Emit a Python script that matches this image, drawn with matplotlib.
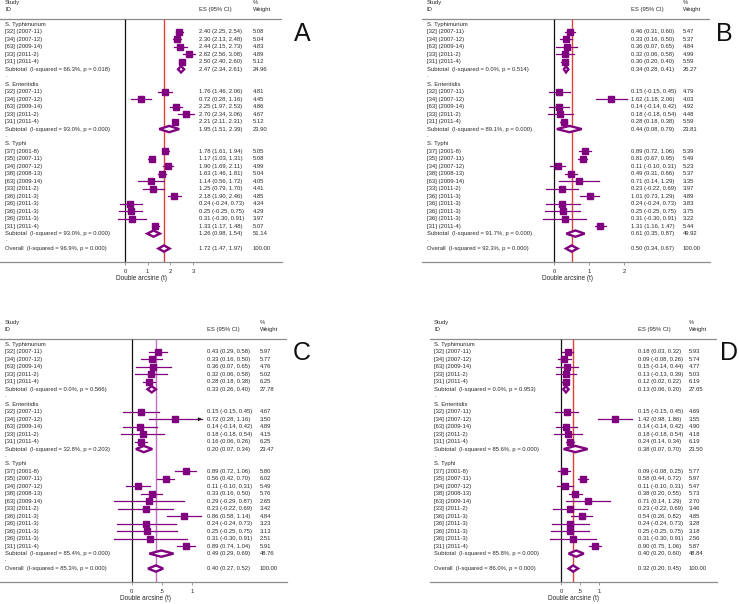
import matplotlib as mpl
mpl.use('Agg')
import matplotlib.pyplot as plt

plt.rcParams['font.family'] = ['Liberation Sans', 'DejaVu Sans']

GROUPS = ['S. Typhimurium', 'S. Enteritidis', 'S. Typhi']
STUDIES = [
    ['[32] (2007-11)', '[34] (2007-12)', '[63] (2009-14)', '[33] (2011-2)', '[31] (2011-4)'],
    ['[32] (2007-11)', '[34] (2007-12)', '[63] (2009-14)', '[33] (2011-2)', '[31] (2011-4)'],
    ['[37] (2001-8)', '[35] (2007-11)', '[34] (2007-12)', '[38] (2008-13)', '[63] (2009-14)',
     '[33] (2011-2)', '[36] (2011-3)', '[36] (2011-3)', '[36] (2011-3)', '[36] (2011-3)',
     '[31] (2011-4)'],
]

# panel A
A_ES = [2.40, 2.30, 2.44, 2.82, 2.50,
        1.76, 0.72, 2.25, 2.70, 2.21,
        1.78, 1.17, 1.90, 1.63, 1.14, 1.25, 2.18, 0.24, 0.25, 0.31, 1.33]
A_LO = [2.25, 2.13, 2.15, 2.56, 2.40,
        1.46, 0.28, 1.97, 2.34, 2.11,
        1.61, 1.03, 1.69, 1.46, 0.56, 0.79, 1.90, -0.24, -0.25, -0.30, 1.17]
A_HI = [2.54, 2.48, 2.73, 3.08, 2.60,
        2.06, 1.16, 2.53, 3.06, 2.31,
        1.94, 1.31, 2.11, 1.81, 1.72, 1.70, 2.46, 0.73, 0.75, 0.91, 1.48]
A_WT = [5.08, 5.04, 4.83, 4.89, 5.12,
        4.81, 4.45, 4.86, 4.67, 5.12,
        5.05, 5.08, 4.99, 5.04, 4.05, 4.41, 4.85, 4.34, 4.29, 3.97, 5.07]
# subgroups + overall: es, lo, hi, weight, I-squared, p
A_POOL = [(2.47, 2.34, 2.61, 24.96, '66.3', '0.018'),
          (1.95, 1.51, 2.39, 23.90, '93.0', '0.000'),
          (1.26, 0.98, 1.54, 51.14, '93.0', '0.000'),
          (1.72, 1.47, 1.97, 100.00, '96.9', '0.000')]

# panel B
B_ES = [0.46, 0.33, 0.36, 0.32, 0.30,
        0.15, 1.62, 0.14, 0.18, 0.28,
        0.89, 0.81, 0.11, 0.49, 0.71, 0.23, 1.01, 0.24, 0.25, 0.31, 1.31]
B_LO = [0.31, 0.16, 0.07, 0.06, 0.20,
        -0.15, 1.18, -0.14, -0.18, 0.18,
        0.72, 0.67, -0.10, 0.31, 0.14, -0.22, 0.73, -0.24, -0.25, -0.30, 1.16]
B_HI = [0.60, 0.50, 0.65, 0.58, 0.40,
        0.45, 2.06, 0.42, 0.54, 0.38,
        1.06, 0.95, 0.31, 0.66, 1.29, 0.69, 1.29, 0.73, 0.75, 0.91, 1.47]
B_WT = [5.47, 5.37, 4.84, 4.99, 5.59,
        4.79, 4.03, 4.92, 4.48, 5.59,
        5.39, 5.49, 5.23, 5.37, 3.35, 3.97, 4.89, 3.83, 3.75, 3.22, 5.44]
B_POOL = [(0.34, 0.28, 0.41, 26.27, '0.0', '0.514'),
          (0.44, 0.08, 0.79, 23.81, '89.1', '0.000'),
          (0.61, 0.35, 0.87, 49.92, '91.7', '0.000'),
          (0.50, 0.34, 0.67, 100.00, '92.3', '0.000')]

# panel C
C_ES = [0.43, 0.33, 0.36, 0.32, 0.28,
        0.15, 0.72, 0.14, 0.18, 0.16,
        0.89, 0.56, 0.11, 0.33, 0.29, 0.23, 0.86, 0.24, 0.25, 0.31, 0.89]
C_LO = [0.29, 0.16, 0.07, 0.06, 0.18,
        -0.15, 0.28, -0.14, -0.18, 0.06,
        0.72, 0.42, -0.10, 0.16, -0.29, -0.22, 0.58, -0.24, -0.25, -0.30, 0.74]
C_HI = [0.58, 0.50, 0.65, 0.58, 0.38,
        0.45, 1.16, 0.42, 0.54, 0.26,
        1.06, 0.70, 0.31, 0.50, 0.87, 0.69, 1.14, 0.73, 0.75, 0.91, 1.04]
C_WT = [5.97, 5.77, 4.76, 5.02, 6.25,
        4.67, 3.50, 4.89, 4.15, 6.25,
        5.80, 6.02, 5.49, 5.76, 2.65, 3.42, 4.84, 3.23, 3.13, 2.51, 5.91]
C_POOL = [(0.33, 0.26, 0.40, 27.78, '0.0', '0.566'),
          (0.20, 0.07, 0.34, 23.47, '32.8', '0.203'),
          (0.49, 0.29, 0.69, 48.76, '85.4', '0.000'),
          (0.40, 0.27, 0.52, 100.00, '85.3', '0.000')]

# panel D
D_ES = [0.18, 0.09, 0.15, 0.13, 0.12,
        0.15, 1.42, 0.14, 0.18, 0.24,
        0.09, 0.58, 0.11, 0.38, 0.71, 0.23, 0.54, 0.24, 0.25, 0.31, 0.90]
D_LO = [0.03, -0.08, -0.14, -0.13, 0.02,
        -0.15, 0.98, -0.14, -0.18, 0.14,
        -0.08, 0.44, -0.10, 0.20, 0.14, -0.22, 0.26, -0.24, -0.25, -0.30, 0.75]
D_HI = [0.32, 0.26, 0.44, 0.39, 0.22,
        0.45, 1.86, 0.42, 0.54, 0.34,
        0.25, 0.72, 0.31, 0.55, 1.29, 0.69, 0.82, 0.73, 0.75, 0.91, 1.06]
D_WT = [5.93, 5.74, 4.77, 5.03, 6.19,
        4.69, 3.55, 4.90, 4.18, 6.19,
        5.77, 5.97, 5.47, 5.73, 2.70, 3.46, 4.85, 3.28, 3.18, 2.56, 5.87]
D_POOL = [(0.13, 0.06, 0.20, 27.65, '0.0', '0.953'),
          (0.38, 0.07, 0.70, 23.50, '85.6', '0.000'),
          (0.40, 0.20, 0.60, 48.84, '85.8', '0.000'),
          (0.32, 0.20, 0.45, 100.00, '86.0', '0.000')]

W, H = 739, 604
PURPLE = '#800080'
TXT = '#2a2a2a'
GRAY = '#8c8c8c'
FS = 4.2
Y_TOP, Y_BOT = -3.28, 31.8
HDR = -0.78


def fmt(e, l, h):
    return f'{e:.2f} ({l:.2f}, {h:.2f})'


def diamond(ax, e, l, h, y):
    ax.fill([l, e, h, e], [y, y - 0.42, y, y + 0.42], facecolor='white',
            edgecolor=PURPLE, lw=1.7, zorder=4)


def draw_panel(ax, es, lo, hi, wt, pool, xlim, ticks, tlabels, lab_x, cols,
               ref_color, arrow=None):
    ax.set_xlim(*xlim)
    ax.set_ylim(Y_BOT, Y_TOP)
    tr = ax.get_yaxis_transform()
    c_id, c_es, c_wt = cols
    kw = dict(transform=tr, fontsize=FS, va='center', ha='left', color=TXT)
    ax.text(c_id, -2.9, 'Study', **kw)
    ax.text(c_id, -2.0, 'ID', **kw)
    ax.text(c_es, -2.0, 'ES (95% CI)', **kw)
    ax.text(c_wt, -2.9, '%', **kw)
    ax.text(c_wt, -2.0, 'Weight', **kw)
    ax.axhline(HDR, color=GRAY, lw=0.9)
    ax.vlines(0, HDR, Y_BOT, color='#111111', lw=0.9, zorder=2)
    ax.vlines(pool[3][0], HDR, Y_BOT, color=ref_color, lw=1.0, zorder=2)

    row = 0
    k = 0
    for g, name in enumerate(GROUPS):
        ax.text(c_id, row, name, **kw)
        row += 1
        for sid in STUDIES[g]:
            ax.plot([lo[k], hi[k]], [row, row], color=PURPLE, lw=0.9, zorder=3)
            if arrow == k:
                ax.annotate('', xy=(hi[k], row), xytext=(hi[k] - 0.05, row),
                            arrowprops=dict(arrowstyle='-|>', color='#111111',
                                            lw=0.6, mutation_scale=5,
                                            shrinkA=0, shrinkB=0), zorder=5)
            ax.plot(es[k], row, 's', ms=3.0 + 0.3 * wt[k], color=PURPLE,
                    mec=PURPLE, zorder=5)
            ax.text(c_id, row, sid, **kw)
            ax.text(c_es, row, fmt(es[k], lo[k], hi[k]), **kw)
            ax.text(c_wt, row, f'{wt[k]:.2f}', **kw)
            row += 1
            k += 1
        s = pool[g]
        diamond(ax, s[0], s[1], s[2], row)
        ax.text(c_id, row, f'Subtotal  (I-squared = {s[4]}%, p = {s[5]})', **kw)
        ax.text(c_es, row, fmt(s[0], s[1], s[2]), **kw)
        ax.text(c_wt, row, f'{s[3]:.2f}', **kw)
        row += 1
        ax.text(c_id, row - 0.15, '.', **kw)
        row += 1
    s = pool[3]
    diamond(ax, s[0], s[1], s[2], row)
    ax.text(c_id, row, f'Overall  (I-squared = {s[4]}%, p = {s[5]})', **kw)
    ax.text(c_es, row, fmt(s[0], s[1], s[2]), **kw)
    ax.text(c_wt, row, f'{s[3]:.2f}', **kw)

    for side in ['left', 'right', 'top']:
        ax.spines[side].set_visible(False)
    ax.spines['bottom'].set_color(GRAY)
    ax.spines['bottom'].set_linewidth(0.9)
    ax.set_yticks([])
    ax.set_xticks(ticks)
    ax.set_xticklabels(tlabels)
    ax.tick_params(axis='x', length=2.2, width=0.6, color=GRAY, pad=2.5,
                   labelsize=FS, labelcolor=TXT)
    ax.annotate('Double arcsine (t)', xy=(lab_x, 0), xycoords=('data', 'axes fraction'),
                xytext=(0, -12), textcoords='offset points', ha='center', va='center',
                fontsize=4.7, color=TXT)


def add_axes(fig, left, right, top, bottom):
    return fig.add_axes([left / W, 1 - bottom / H, (right - left) / W, (bottom - top) / H])


fig = plt.figure(figsize=(W / 100, H / 100), dpi=100)

ax_a = add_axes(fig, 0, 282, 0, 262)
draw_panel(ax_a, A_ES, A_LO, A_HI, A_WT, A_POOL, (-5.514, 6.925),
           [0, 1, 2, 3], ['0', '1', '2', '3'], 0.73, (0.018, 0.706, 0.897), '#e0403c')

ax_b = add_axes(fig, 422, 710, 0, 262)
draw_panel(ax_b, B_ES, B_LO, B_HI, B_WT, B_POOL, (-3.75, 4.432),
           [0, 1, 2], ['0', '1', '2'], 0.37, (0.017, 0.726, 0.906), '#e0403c')

ax_c = add_axes(fig, 0, 287, 320, 582)
draw_panel(ax_c, C_ES, C_LO, C_HI, C_WT, C_POOL, (-2.173, 2.563),
           [0, 0.5, 1], ['0', '.5', '1'], 0.225, (0.017, 0.721, 0.906), '#c070c0',
           arrow=6)

ax_d = add_axes(fig, 430, 717, 320, 582)
draw_panel(ax_d, D_ES, D_LO, D_HI, D_WT, D_POOL, (-3.447, 4.105),
           [0, 0.5, 1], ['0', '.5', '1'], 0.33, (0.014, 0.725, 0.902), '#e0403c')

for letter, px, py in [('A', 302, 34), ('B', 724, 34), ('C', 302, 353), ('D', 729, 353)]:
    fig.text(px / W, 1 - py / H, letter, fontsize=18, ha='center', va='center',
             color='#111111')

fig.savefig('out.png', dpi=100)
